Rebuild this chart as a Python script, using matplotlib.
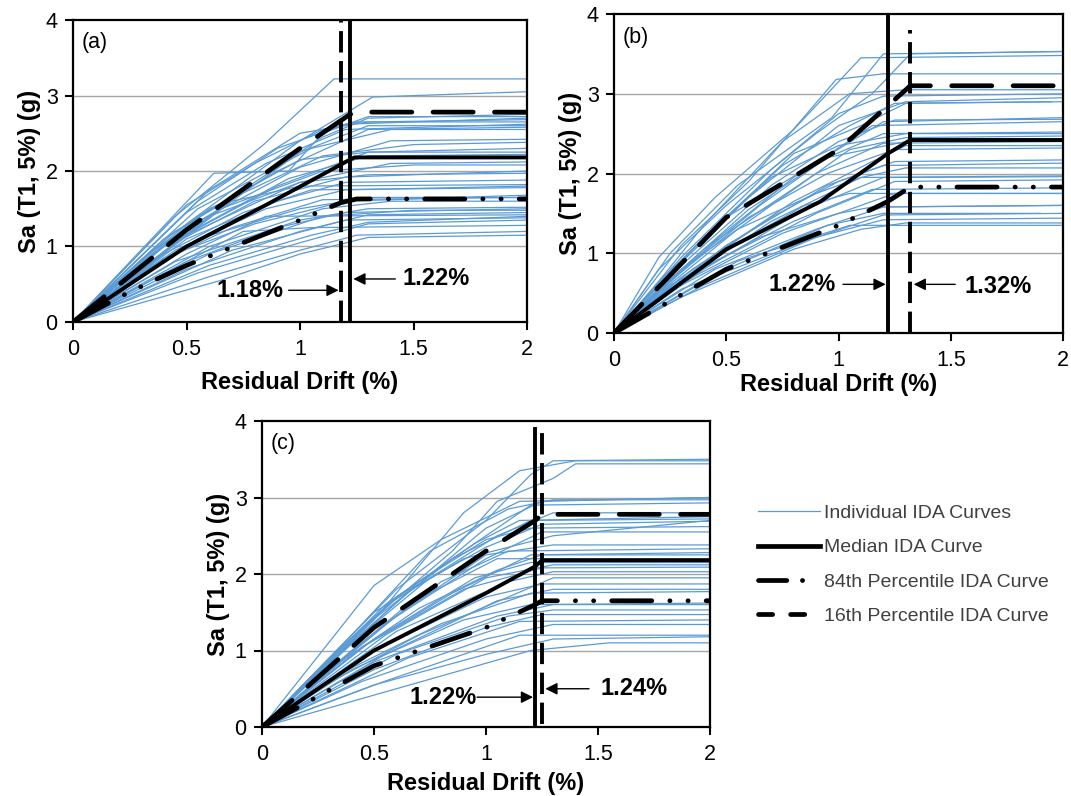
import matplotlib
matplotlib.use("Agg")
import matplotlib.pyplot as plt
from matplotlib.lines import Line2D

plt.rcParams['font.family'] = ['Liberation Sans', 'DejaVu Sans']

# ---------------- data ----------------
x_ticks = [0, 0.5, 1, 1.5, 2]
x_tick_labels = ["0", "0.5", "1", "1.5", "2"]
y_ticks = [0, 1, 2, 3, 4]
panel_labels = ["(a)", "(b)", "(c)"]
x_label = "Residual Drift (%)"
y_label = "Sa (T1, 5%) (g)"
legend_labels = ["Individual IDA Curves", "Median IDA Curve",
                 "84th Percentile IDA Curve", "16th Percentile IDA Curve"]

# individual IDA curves (drift %, Sa g)
curves_a = [
    [(0,0),(0.45,1.4),(0.84,2.35),(1.15,3.22),(2,3.22)],
    [(0,0),(0.5,1.3),(1.0,2.4),(1.32,2.98),(2,3.05)],
    [(0,0),(0.62,1.97),(0.95,2.0),(1.1,2.5),(1.3,2.72),(2,2.72)],
    [(0,0),(0.55,1.6),(0.9,2.3),(1.2,2.62),(2,2.70)],
    [(0,0),(0.6,1.75),(1.0,2.5),(1.3,2.65),(2,2.68)],
    [(0,0),(0.5,1.45),(0.85,2.1),(1.2,2.55),(2,2.62)],
    [(0,0),(0.45,1.2),(0.9,2.0),(1.3,2.55),(2,2.58)],
    [(0,0),(0.55,1.5),(1.05,2.3),(1.4,2.55),(2,2.55)],
    [(0,0),(0.5,1.25),(1.0,2.05),(1.4,2.4),(2,2.42)],
    [(0,0),(0.6,1.5),(1.1,2.2),(1.5,2.35),(2,2.38)],
    [(0,0),(0.4,1.0),(0.9,1.8),(1.3,2.25),(2,2.3)],
    [(0,0),(0.55,1.4),(1.0,2.15),(1.3,2.25),(2,2.25)],
    [(0,0),(0.5,1.15),(1.0,1.85),(1.4,2.1),(2,2.12)],
    [(0,0),(0.65,1.5),(1.1,2.0),(1.5,2.08),(2,2.08)],
    [(0,0),(0.45,1.05),(0.8,1.6),(1.2,1.92),(2,2.0)],
    [(0,0),(0.6,1.4),(1.0,1.85),(1.3,1.95),(2,1.97)],
    [(0,0),(0.5,1.1),(0.9,1.6),(1.2,1.85),(2,1.88)],
    [(0,0),(0.7,1.6),(1.0,1.8),(2,1.82)],
    [(0,0),(0.4,0.85),(0.8,1.3),(1.2,1.6),(2,1.68)],
    [(0,0),(0.55,1.1),(1.0,1.5),(1.3,1.65),(2,1.65)],
    [(0,0),(0.6,1.0),(1.1,1.5),(1.4,1.6),(2,1.6)],
    [(0,0),(0.5,0.9),(0.85,1.4),(2,1.42)],
    [(0,0),(0.45,0.8),(1.0,1.35),(1.3,1.5),(2,1.52)],
    [(0,0),(0.6,0.9),(1.1,1.4),(1.5,1.48),(2,1.48)],
    [(0,0),(0.5,0.7),(1.0,1.2),(1.3,1.42),(2,1.45)],
    [(0,0),(0.7,0.95),(1.2,1.35),(2,1.38)],
    [(0,0),(0.55,0.65),(1.0,1.05),(1.3,1.3),(2,1.35)],
    [(0,0),(0.6,0.6),(1.0,0.95),(1.25,1.15),(2,1.2)],
    [(0,0),(0.65,0.55),(1.0,0.9),(1.3,1.12),(2,1.15)],
    [(0,0),(0.75,1.2),(1.05,1.25),(2,1.28)],
    [(0,0),(0.35,0.95),(0.7,1.6),(1.0,2.25),(1.3,2.6),(2,2.6)],
    [(0,0),(0.5,1.55),(0.8,2.1),(1.1,2.55),(1.25,2.65),(2,2.65)],
    [(0,0),(0.4,0.9),(0.75,1.45),(1.05,1.75),(2,1.78)],
    [(0,0),(0.4,1.1),(0.75,1.75),(1.1,2.45),(1.3,2.7),(2,2.75)],
    [(0,0),(0.55,1.25),(0.95,1.9),(1.3,2.2),(2,2.22)],
    [(0,0),(0.45,0.95),(0.85,1.5),(1.2,1.75),(2,1.8)],
    [(0,0),(0.5,0.8),(0.9,1.25),(1.2,1.45),(2,1.5)],
    [(0,0),(0.6,0.75),(1.05,1.15),(1.3,1.32),(2,1.4)],
    [(0,0),(0.35,0.75),(0.7,1.25),(1.1,1.62),(2,1.65)],
]
curves_b = [
    [(0,0),(0.2,0.95),(0.45,1.7),(0.8,2.55),(1.1,3.45),(2,3.48)],
    [(0,0),(0.25,1.0),(0.55,1.85),(0.97,2.7),(1.2,3.5),(2,3.53)],
    [(0,0),(0.3,1.1),(0.6,1.9),(0.99,3.18),(1.2,3.25),(2,3.25)],
    [(0,0),(0.2,0.8),(0.5,1.6),(0.9,2.5),(1.15,3.0),(1.32,3.5),(2,3.53)],
    [(0,0),(0.3,0.95),(0.7,2.05),(1.0,2.75),(1.2,2.97),(2,3.0)],
    [(0,0),(0.25,0.75),(0.6,1.7),(1.0,2.6),(1.3,2.9),(2,2.95)],
    [(0,0),(0.35,1.05),(0.8,2.25),(1.1,2.6),(1.3,2.88),(1.95,2.9)],
    [(0,0),(0.3,0.85),(0.7,1.85),(1.0,2.4),(1.25,2.67),(2,2.68)],
    [(0,0),(0.4,1.05),(0.8,1.95),(1.15,2.6),(2,2.65)],
    [(0,0),(0.2,0.55),(0.6,1.55),(0.95,2.2),(1.2,2.5),(2,2.52)],
    [(0,0),(0.3,0.8),(0.75,1.7),(1.05,2.3),(1.3,2.45),(2,2.47)],
    [(0,0),(0.45,1.15),(0.9,2.0),(1.2,2.38),(2,2.40)],
    [(0,0),(0.35,0.8),(0.8,1.65),(1.15,2.15),(1.3,2.35),(2,2.35)],
    [(0,0),(0.3,0.7),(0.7,1.45),(1.0,1.9),(1.25,2.15),(2,2.17)],
    [(0,0),(0.5,1.1),(0.95,1.85),(1.2,2.1),(2,2.13)],
    [(0,0),(0.25,0.55),(0.7,1.4),(1.1,1.95),(1.3,2.07),(2,2.07)],
    [(0,0),(0.4,0.8),(0.85,1.55),(1.2,1.95),(2,1.96)],
    [(0,0),(0.35,0.7),(0.9,1.5),(1.25,1.9),(2,1.92)],
    [(0,0),(0.3,0.6),(0.75,1.25),(1.1,1.6),(1.25,1.75),(2,1.75)],
    [(0,0),(0.45,0.8),(0.9,1.3),(1.2,1.58),(2,1.60)],
    [(0,0),(0.5,0.8),(0.95,1.35),(1.2,1.5),(1.9,1.5)],
    [(0,0),(0.4,0.6),(0.9,1.2),(1.2,1.42),(2,1.44)],
    [(0,0),(0.3,0.45),(0.8,1.05),(1.1,1.3),(1.3,1.38),(2,1.38)],
    [(0,0),(0.55,0.9),(1.05,1.35),(2,1.35)],
    [(0,0),(0.15,0.45),(0.4,1.2),(0.7,1.95),(1.0,2.35),(1.3,2.5),(2,2.5)],
    [(0,0),(0.2,0.5),(0.55,1.3),(0.9,1.75),(1.1,1.95),(2,1.97)],
    [(0,0),(0.35,0.9),(0.65,1.6),(0.95,2.2),(1.3,2.4),(2,2.42)],
    [(0,0),(0.25,0.6),(0.65,1.2),(1.0,1.5),(1.15,1.58),(2,1.6)],
    [(0,0),(0.4,1.2),(0.75,2.1),(1.05,2.6),(1.25,2.88),(2,2.9)],
    [(0,0),(0.15,0.35),(0.5,1.05),(0.85,1.6),(1.05,1.75),(2,1.75)],
    [(0,0),(0.1,0.3),(0.4,1.35),(0.75,2.4),(1.05,3.0),(1.3,3.05),(2,3.05)],
    [(0,0),(0.25,0.65),(0.6,1.45),(0.95,2.0),(1.25,2.3),(2,2.32)],
    [(0,0),(0.35,0.75),(0.8,1.4),(1.15,1.8),(2,1.82)],
    [(0,0),(0.3,0.55),(0.85,1.15),(1.2,1.48),(2,1.5)],
    [(0,0),(0.2,0.65),(0.5,1.45),(0.85,2.05),(1.2,2.65),(2,2.7)],
]
curves_c = [
    [(0,0),(0.5,1.4),(0.9,2.8),(1.15,3.35),(1.4,3.48),(2,3.48)],
    [(0,0),(0.6,1.8),(1.0,2.7),(1.2,3.3),(1.3,3.48),(2,3.5)],
    [(0,0),(0.45,1.3),(0.85,2.3),(1.05,2.95),(1.3,3.25),(1.4,3.44),(2,3.44)],
    [(0,0),(0.5,1.85),(0.8,2.45),(1.15,2.95),(2,3.0)],
    [(0,0),(0.4,1.2),(0.75,2.3),(1.1,2.85),(1.3,2.97),(2,2.97)],
    [(0,0),(0.55,1.6),(0.95,2.4),(1.2,2.9),(2,2.93)],
    [(0,0),(0.45,1.3),(0.85,2.2),(1.2,2.7),(2,2.72)],
    [(0,0),(0.6,1.7),(1.0,2.35),(1.25,2.65),(2,2.69)],
    [(0,0),(0.5,1.5),(0.9,2.2),(1.3,2.5),(2,2.7)],
    [(0,0),(0.35,0.95),(0.7,1.9),(1.0,2.45),(1.2,2.6),(2,2.62)],
    [(0,0),(0.55,1.35),(1.0,2.2),(1.25,2.55),(2,2.55)],
    [(0,0),(0.6,1.45),(1.0,2.25),(1.3,2.38),(2,2.38)],
    [(0,0),(0.4,1.0),(0.8,1.9),(1.1,2.3),(2,2.33)],
    [(0,0),(0.65,1.6),(1.05,2.2),(2,2.2)],
    [(0,0),(0.5,1.15),(0.95,1.95),(1.2,2.15),(2,2.15)],
    [(0,0),(0.45,1.05),(0.9,1.8),(1.25,2.08),(2,2.09)],
    [(0,0),(0.6,1.25),(1.1,1.9),(1.3,2.03),(2,2.03)],
    [(0,0),(0.5,1.0),(1.0,1.7),(1.25,1.87),(2,1.87)],
    [(0,0),(0.55,0.95),(1.05,1.65),(1.3,1.8),(2,1.8)],
    [(0,0),(0.4,0.75),(0.9,1.4),(1.2,1.6),(2,1.62)],
    [(0,0),(0.6,0.95),(1.1,1.45),(1.3,1.53),(2,1.53)],
    [(0,0),(0.5,0.75),(1.0,1.3),(1.25,1.47),(2,1.47)],
    [(0,0),(0.65,0.9),(1.15,1.38),(2,1.4)],
    [(0,0),(0.45,0.6),(1.0,1.15),(1.3,1.34),(2,1.34)],
    [(0,0),(0.55,0.6),(1.15,1.2),(2,1.2)],
    [(0,0),(0.5,0.55),(1.0,0.95),(1.3,1.15),(2,1.18)],
    [(0,0),(0.6,0.5),(1.2,1.0),(1.55,1.1),(2,1.1)],
    [(0,0),(0.3,0.9),(0.6,1.7),(0.95,2.4),(1.15,2.7),(2,2.75)],
    [(0,0),(0.35,0.85),(0.7,1.55),(1.05,2.05),(1.25,2.25),(2,2.25)],
    [(0,0),(0.25,0.5),(0.7,1.2),(1.1,1.7),(1.3,1.95),(2,1.95)],
    [(0,0),(0.4,1.1),(0.75,1.95),(1.05,2.5),(1.3,2.8),(2,2.8)],
    [(0,0),(0.3,0.85),(0.65,1.75),(1.0,2.6),(1.25,2.95),(2,3.0)],
    [(0,0),(0.45,1.05),(0.85,1.75),(1.2,2.25),(2,2.28)],
    [(0,0),(0.35,0.7),(0.8,1.35),(1.2,1.75),(2,1.77)],
    [(0,0),(0.5,0.85),(1.05,1.45),(1.3,1.6),(2,1.6)],
    [(0,0),(0.55,1.2),(1.0,1.95),(1.3,2.12),(2,2.12)],
]

# summary curves
median_a = [(0,0),(0.5,1.0),(0.85,1.55),(1.22,2.15),(1.24,2.18),(2,2.18)]
upper_a  = [(0,0),(0.5,1.22),(1.0,2.3),(1.22,2.75),(1.26,2.78),(2,2.78)]
lower_a  = [(0,0),(0.25,0.4),(0.5,0.75),(0.75,1.05),(1.0,1.35),(1.1,1.48),(1.18,1.58),(1.25,1.63),(2,1.63)]
median_b = [(0,0),(0.5,1.05),(0.92,1.65),(1.22,2.25),(1.32,2.42),(2,2.42)]
upper_b  = [(0,0),(0.5,1.45),(1.0,2.3),(1.22,2.85),(1.32,3.1),(2,3.1)]
lower_b  = [(0,0),(0.5,0.8),(1.0,1.35),(1.22,1.65),(1.32,1.83),(2,1.83)]
median_c = [(0,0),(0.5,1.0),(1.0,1.75),(1.22,2.1),(1.25,2.18),(2,2.18)]
upper_c  = [(0,0),(0.5,1.3),(1.0,2.3),(1.22,2.7),(1.25,2.78),(2,2.78)]
lower_c  = [(0,0),(0.5,0.8),(1.0,1.3),(1.22,1.6),(1.25,1.65),(2,1.65)]

# vertical markers: (x, style, ymin, ymax)
vlines_a = [(1.18, "dashed", 0, 4), (1.22, "solid", 0, 4)]
vlines_b = [(1.22, "solid", 0, 4), (1.32, "dashed", 0, 3.8)]
vlines_c = [(1.22, "solid", 0.04, 3.9), (1.25, "dashed", 0.04, 3.9)]

# annotations: text, text position, arrow start, arrow end
notes_a = [("1.18%", (0.78, 0.42), (0.95, 0.42), (1.17, 0.42)),
           ("1.22%", (1.60, 0.57), (1.42, 0.57), (1.235, 0.57))]
notes_b = [("1.22%", (0.84, 0.61), (1.02, 0.61), (1.21, 0.61)),
           ("1.32%", (1.71, 0.58), (1.52, 0.61), (1.335, 0.61))]
notes_c = [("1.22%", (0.81, 0.39), (0.96, 0.39), (1.21, 0.39)),
           ("1.24%", (1.66, 0.50), (1.46, 0.50), (1.265, 0.50))]

# ---------------- style ----------------
BLUE = "#5b9bd5"
DASH = (0, (8.5, 4.5))
DASHDOT = (0, (8.5, 3.8, 0.05, 3.8, 0.05, 3.8))

fig = plt.figure(figsize=(10.71, 7.96), dpi=100)
W, H = 1071, 796
boxes = [(73, 20, 527, 322), (614, 14, 1063, 333), (262, 421, 710, 727)]
xlabel_pads = [8, 2, 5]

panels = [
    (curves_a, median_a, upper_a, lower_a, vlines_a, notes_a),
    (curves_b, median_b, upper_b, lower_b, vlines_b, notes_b),
    (curves_c, median_c, upper_c, lower_c, vlines_c, notes_c),
]

for i, (box, (curves, med, up, lo, vls, notes)) in enumerate(zip(boxes, panels)):
    l, t, r, b = box
    ax = fig.add_axes([l / W, 1 - b / H, (r - l) / W, (b - t) / H])
    ax.set_xlim(0, 2)
    ax.set_ylim(0, 4)
    for yv in [1, 2, 3]:
        ax.axhline(yv, color="#a6a6a6", lw=1.0, zorder=0)
    for c in curves:
        xs, ys = zip(*c)
        ax.plot(xs, ys, color=BLUE, lw=0.9, zorder=1)
    xs, ys = zip(*med)
    ax.plot(xs, ys, color="black", lw=2.8, zorder=3, solid_capstyle="butt")
    xs, ys = zip(*lo)
    ax.plot(xs, ys, color="black", lw=3.4, ls=DASHDOT, zorder=3,
            dash_capstyle="round")
    xs, ys = zip(*up)
    ax.plot(xs, ys, color="black", lw=3.4, ls=DASH, zorder=3,
            dash_capstyle="round")
    for xv, st, y0, y1 in vls:
        if st == "solid":
            ax.plot([xv, xv], [y0, y1], color="black", lw=2.8, zorder=4)
        else:
            ax.plot([xv, xv], [y0, y1], color="black", lw=2.8, zorder=4,
                    ls=(0, (5.5, 2.2)), dash_capstyle="butt")
    for txt, tpos, a0, a1 in notes:
        ax.text(tpos[0], tpos[1], txt, fontsize=17, fontweight="bold",
                ha="center", va="center", zorder=5)
        ax.annotate("", xy=a1, xytext=a0,
                    arrowprops=dict(arrowstyle="-|>", color="black", lw=1.0,
                                    mutation_scale=18, shrinkA=0, shrinkB=0),
                    zorder=5)
    ax.text(0.02, 0.96, panel_labels[i], transform=ax.transAxes,
            fontsize=15.5, ha="left", va="top")
    ax.set_xticks(x_ticks)
    ax.set_xticklabels(x_tick_labels)
    ax.set_yticks(y_ticks)
    ax.tick_params(direction="out", length=6, width=1.5, labelsize=15.5,
                   colors="black")
    ax.tick_params(axis="x", pad=6)
    ax.tick_params(axis="y", pad=5)
    for sp in ax.spines.values():
        sp.set_linewidth(1.6)
        sp.set_color("black")
    ax.set_xlabel(x_label, fontsize=17, fontweight="bold", labelpad=xlabel_pads[i])
    ax.set_ylabel(y_label, fontsize=17, fontweight="bold", labelpad=3)

leg_handles = [
    Line2D([], [], color=BLUE, lw=0.9),
    Line2D([], [], color="black", lw=3.4),
    Line2D([], [], color="black", lw=3.4, ls=(0, (6.0, 3.3, 0.05, 6)), dash_capstyle="round"),
    Line2D([], [], color="black", lw=3.4, ls=(0, (3.0, 3.8)), dash_capstyle="round"),
]
fig.legend(leg_handles, legend_labels, loc="upper left",
           bbox_to_anchor=(740 / W, 1 - 487 / H), frameon=False,
           fontsize=14, handlelength=3.2, handletextpad=0.2,
           labelspacing=0.86, labelcolor="#404040")

fig.savefig("out.png", dpi=100)
